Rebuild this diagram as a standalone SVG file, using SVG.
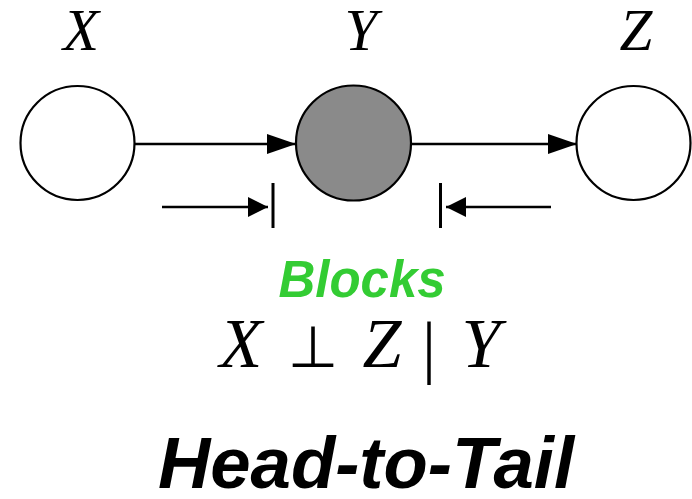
<svg xmlns="http://www.w3.org/2000/svg" width="692" height="499" viewBox="0 0 692 499">
<style>
.node{stroke:#000;stroke-width:2.2}
.var{font-family:"Liberation Serif","Times New Roman",serif;font-style:italic;fill:#000}
.edge{stroke:#000;stroke-width:2.5;fill:none}
.bar{stroke:#000;stroke-width:3}
</style>
<defs>
<marker id="ah" markerUnits="userSpaceOnUse" markerWidth="30" markerHeight="22" refX="29" refY="10" orient="auto">
<path d="M0,0 L29,10 L0,20 Z" fill="#000"/>
</marker>
<marker id="sh" markerUnits="userSpaceOnUse" markerWidth="22" markerHeight="22" refX="20" refY="10" orient="auto">
<path d="M0,0 L20,10 L0,20 Z" fill="#000"/>
</marker>
</defs>
<rect width="692" height="499" fill="#fff"/>
<g id="connectors">
<line class="edge" x1="135" y1="144" x2="296" y2="144" marker-end="url(#ah)"/>
<line class="edge" x1="411" y1="144" x2="577" y2="144" marker-end="url(#ah)"/>
<line class="edge" x1="162" y1="207" x2="268" y2="207" marker-end="url(#sh)"/>
<line class="bar" x1="273" y1="183" x2="273" y2="228"/>
<line class="edge" x1="551" y1="207" x2="446" y2="207" marker-end="url(#sh)"/>
<line class="bar" x1="440.5" y1="183" x2="440.5" y2="228"/>
</g>
<g id="X">
<circle class="node" cx="77.5" cy="143" r="57" fill="#fff"/>
<text class="var" x="81" y="50" font-size="59" text-anchor="middle">X</text>
</g>
<g id="Y">
<circle class="node" cx="353.5" cy="143" r="57.5" fill="#8a8a8a"/>
<text class="var" x="361" y="50" font-size="59" text-anchor="middle">Y</text>
</g>
<g id="Z">
<circle class="node" cx="633.5" cy="143" r="57" fill="#fff"/>
<text class="var" x="636" y="50" font-size="59" text-anchor="middle">Z</text>
</g>
<g id="labels">
<text x="362" y="297" font-family="Liberation Sans, Arial, sans-serif" font-weight="bold" font-style="italic" font-size="51" fill="#33cc33" text-anchor="middle">Blocks</text>
<text class="var" x="241" y="367" font-size="70" text-anchor="middle">X</text>
<text x="313" y="367" font-family="DejaVu Sans, sans-serif" font-size="58" text-anchor="middle">⊥</text>
<text class="var" x="382" y="367" font-size="70" text-anchor="middle">Z</text>
<text x="429" y="370" font-family="Liberation Serif, serif" font-size="70" text-anchor="middle">|</text>
<text class="var" x="481" y="367" font-size="70" text-anchor="middle">Y</text>
<text x="366" y="488" font-family="Liberation Sans, Arial, sans-serif" font-weight="bold" font-style="italic" font-size="72.5" fill="#000" text-anchor="middle">Head-to-Tail</text>
</g>
</svg>
